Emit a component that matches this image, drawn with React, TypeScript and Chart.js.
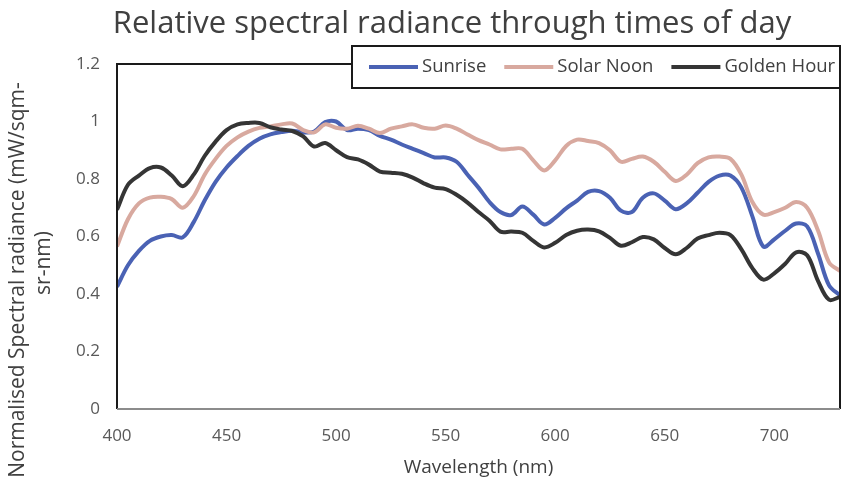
import React, { useEffect, useRef } from "react";
import { Chart, registerables } from "chart.js";

Chart.register(...registerables);

const chartTitle = "Relative spectral radiance through times of day";
const xAxisTitle = "Wavelength (nm)";
const yAxisTitleLines = ["Normalised Spectral radiance (mW/sqm-", "sr-nm)"];

const wavelengths = [
  400, 405, 410, 415, 420, 425, 430, 435, 440, 445,
  450, 455, 460, 465, 470, 475, 480, 485, 490, 495,
  500, 505, 510, 515, 520, 525, 530, 535, 540, 545,
  550, 555, 560, 565, 570, 575, 580, 585, 590, 595,
  600, 605, 610, 615, 620, 625, 630, 635, 640, 645,
  650, 655, 660, 665, 670, 675, 680, 685, 690, 695,
  700, 705, 710, 715, 720, 725, 730,
];

const sunrise = [
  0.425, 0.5, 0.55, 0.585, 0.6, 0.605, 0.597, 0.65, 0.725, 0.79,
  0.84, 0.88, 0.915, 0.94, 0.955, 0.963, 0.968, 0.962, 0.965, 0.998,
  1.0, 0.97, 0.975, 0.97, 0.95, 0.937, 0.92, 0.905, 0.89, 0.875,
  0.875, 0.86, 0.815, 0.77, 0.72, 0.685, 0.675, 0.704, 0.676, 0.642,
  0.665, 0.698, 0.725, 0.755, 0.758, 0.735, 0.69, 0.685, 0.735, 0.75,
  0.725, 0.695, 0.715, 0.752, 0.79, 0.812, 0.812, 0.77, 0.67, 0.565,
  0.59, 0.62, 0.645, 0.635, 0.54, 0.43, 0.395,
];

const solarNoon = [
  0.565, 0.66, 0.715, 0.735, 0.738, 0.73, 0.7, 0.74, 0.815, 0.87,
  0.915, 0.945, 0.965, 0.978, 0.983, 0.99, 0.993, 0.97, 0.962, 0.99,
  0.978, 0.975, 0.985, 0.975, 0.96, 0.975, 0.983, 0.99, 0.978, 0.975,
  0.986, 0.975, 0.955, 0.935, 0.92, 0.903, 0.905, 0.905, 0.865, 0.83,
  0.865, 0.915, 0.937, 0.932, 0.925, 0.9, 0.86, 0.87, 0.878, 0.86,
  0.825, 0.793, 0.815, 0.855, 0.875, 0.878, 0.87, 0.815, 0.72, 0.676,
  0.685, 0.7, 0.72, 0.7, 0.62, 0.51, 0.48,
];

const goldenHour = [
  0.693, 0.78, 0.812, 0.838, 0.84, 0.812, 0.775, 0.815, 0.88, 0.93,
  0.97, 0.99, 0.995, 0.995, 0.98, 0.972, 0.967, 0.948, 0.913, 0.925,
  0.9, 0.876, 0.868, 0.85, 0.826, 0.822, 0.818, 0.805, 0.785, 0.77,
  0.765, 0.745, 0.718, 0.685, 0.655, 0.617, 0.617, 0.613, 0.585, 0.562,
  0.578, 0.605, 0.62, 0.624, 0.618, 0.595, 0.568, 0.58, 0.598, 0.59,
  0.56, 0.538, 0.56, 0.593, 0.605, 0.613, 0.605, 0.555, 0.49, 0.45,
  0.472, 0.505, 0.545, 0.535, 0.445, 0.38, 0.39,
];

const seriesNames = ["Sunrise", "Solar Noon", "Golden Hour"];
const seriesColors = ["#4a62b4", "#d8a99f", "#353535"];
const xTickValues = [400, 450, 500, 550, 600, 650, 700];
const yTickValues = [0, 0.2, 0.4, 0.6, 0.8, 1, 1.2];

const FONT = "'Open Sans', 'DejaVu Sans', sans-serif";
const TEXT_COLOR = "#404040";

const decorPlugin = {
  id: "decor",
  afterDatasetsDraw(chart: any) {
    const { ctx, chartArea: a } = chart;
    ctx.save();
    // plot frame
    ctx.lineWidth = 2;
    ctx.strokeStyle = "#1a1a1a";
    ctx.beginPath();
    ctx.moveTo(a.left, a.bottom);
    ctx.lineTo(a.left, a.top);
    ctx.lineTo(a.right, a.top);
    ctx.lineTo(a.right, a.bottom);
    ctx.stroke();
    ctx.strokeStyle = "#8c8c8c";
    ctx.beginPath();
    ctx.moveTo(a.left, a.bottom);
    ctx.lineTo(a.right, a.bottom);
    ctx.stroke();

    // legend box
    const lx = 352, ly = 46, lw = 488, lh = 42;
    ctx.fillStyle = "#ffffff";
    ctx.fillRect(lx, ly, lw, lh);
    ctx.lineWidth = 2;
    ctx.strokeStyle = "#1a1a1a";
    ctx.strokeRect(lx, ly, lw, lh);
    ctx.font = `18.5px ${FONT}`;
    ctx.textBaseline = "middle";
    ctx.textAlign = "left";
    let x = 369;
    const cy = ly + lh / 2;
    chart.data.datasets.forEach((ds: any) => {
      ctx.strokeStyle = ds.borderColor;
      ctx.lineWidth = 4;
      ctx.beginPath();
      ctx.moveTo(x, cy);
      ctx.lineTo(x + 49, cy);
      ctx.stroke();
      ctx.fillStyle = TEXT_COLOR;
      ctx.fillText(ds.label, x + 53, cy);
      x = x + 53 + ctx.measureText(ds.label).width + 18;
    });

    // chart title
    ctx.fillStyle = TEXT_COLOR;
    ctx.font = `31px ${FONT}`;
    ctx.textAlign = "center";
    ctx.fillText(chartTitle, 452, 24);

    // y-axis title
    ctx.font = `21px ${FONT}`;
    ctx.save();
    ctx.translate(18, 280);
    ctx.rotate(-Math.PI / 2);
    ctx.fillText(yAxisTitleLines[0], 0, 0);
    ctx.restore();
    ctx.save();
    ctx.translate(44, 263);
    ctx.rotate(-Math.PI / 2);
    ctx.fillText(yAxisTitleLines[1], 0, 0);
    ctx.restore();
    ctx.restore();
  },
};

export default function App() {
  const canvasRef = useRef<HTMLCanvasElement | null>(null);

  useEffect(() => {
    if (!canvasRef.current) return;
    const series = [sunrise, solarNoon, goldenHour];
    const chart = new Chart(canvasRef.current, {
      type: "line",
      data: {
        datasets: series.map((vals, i) => ({
          label: seriesNames[i],
          data: vals.map((v, k) => ({ x: wavelengths[k], y: v })),
          borderColor: seriesColors[i],
          backgroundColor: seriesColors[i],
          borderWidth: 4,
          pointRadius: 0,
          tension: 0.35,
          fill: false,
          order: 2 - i,
        })),
      },
      options: {
        responsive: false,
        animation: false,
        devicePixelRatio: 1,
        layout: { padding: { top: 64, right: 4, left: 0, bottom: 0 } },
        plugins: {
          legend: { display: false },
          title: { display: false },
          tooltip: { enabled: false },
        },
        scales: {
          x: {
            type: "linear",
            min: 400,
            max: 730,
            grid: { display: false, drawTicks: false },
            border: { display: false },
            afterBuildTicks: (s: any) => {
              s.ticks = xTickValues.map((v) => ({ value: v }));
            },
            afterFit: (s: any) => {
              s.height = 77;
            },
            ticks: {
              color: "#595959",
              font: { family: FONT, size: 17 },
              padding: 17,
              maxRotation: 0,
              autoSkip: false,
            },
            title: {
              display: true,
              text: xAxisTitle,
              color: TEXT_COLOR,
              font: { family: FONT, size: 19 },
              padding: { top: 0, bottom: 7 },
            },
          },
          y: {
            min: 0,
            max: 1.2,
            grid: { display: false, drawTicks: false },
            border: { display: false },
            afterBuildTicks: (s: any) => {
              s.ticks = yTickValues.map((v) => ({ value: v }));
            },
            afterFit: (s: any) => {
              s.width = 117;
            },
            ticks: {
              color: "#595959",
              font: { family: FONT, size: 17 },
              padding: 17,
              callback: (v: any) => String(Math.round(Number(v) * 10) / 10),
            },
          },
        },
      },
      plugins: [decorPlugin],
    });
    return () => chart.destroy();
  }, []);

  return (
    <div style={{ position: "absolute", left: 0, top: 0, width: 844, height: 486, background: "#fff" }}>
      <canvas ref={canvasRef} width={844} height={486} style={{ width: 844, height: 486 }} />
    </div>
  );
}
